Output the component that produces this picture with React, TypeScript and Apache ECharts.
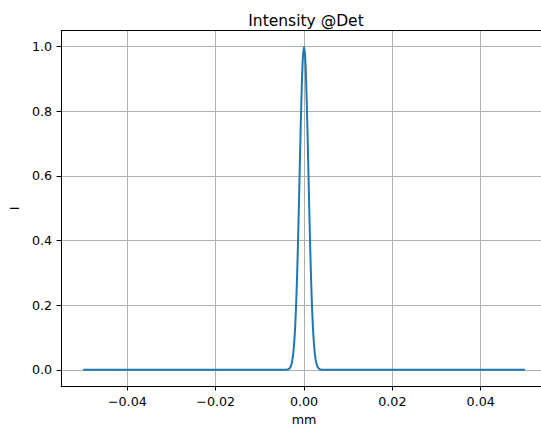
import React, { useEffect, useRef } from 'react';
import * as echarts from 'echarts';

// Intensity profile (mm, normalised intensity)
const xValues = [
  -0.05, -0.004, -0.00375, -0.0035, -0.00325, -0.003, -0.00275, -0.0025, -0.00225, -0.002,
  -0.00175, -0.0015, -0.00125, -0.001, -0.00075, -0.0005, -0.00025, 0,
  0.00025, 0.0005, 0.00075, 0.001, 0.00125, 0.0015, 0.00175, 0.002, 0.00225,
  0.0025, 0.00275, 0.003, 0.00325, 0.0035, 0.00375, 0.004, 0.05,
];
const yValues = [
  0, 0, 0.001, 0.002, 0.005, 0.011, 0.023, 0.044, 0.08, 0.135,
  0.216, 0.325, 0.458, 0.607, 0.755, 0.882, 0.969, 1.0,
  0.969, 0.882, 0.755, 0.607, 0.458, 0.325, 0.216, 0.135, 0.08,
  0.044, 0.023, 0.011, 0.005, 0.002, 0.001, 0, 0,
];
const xTicks = [-0.04, -0.02, 0, 0.02, 0.04];
const yTicks = [0, 0.2, 0.4, 0.6, 0.8, 1.0];
const chartTitle = 'Intensity @Det';
const xAxisName = 'mm';
const yAxisName = 'I';

const FONT = 'DejaVu Sans';

function fmtX(v: number): string {
  const s = Math.abs(v).toFixed(2);
  return v < -1e-12 ? '\u2212' + s : s;
}

export default function App() {
  const ref = useRef<HTMLDivElement>(null);
  useEffect(() => {
    if (!ref.current) return;
    const chart = echarts.init(ref.current, undefined, { renderer: 'svg' });
    const axisLineStyle = { show: true, onZero: false, lineStyle: { color: '#000', width: 1 } };
    chart.setOption({
      animation: false,
      backgroundColor: '#fff',
      title: {
        text: chartTitle,
        left: 301,
        textAlign: 'center',
        top: 7.5,
        textStyle: { fontFamily: FONT, fontSize: 15.5, fontWeight: 'normal', color: '#000' },
      },
      grid: { left: 60.5, right: 0, top: 30.5, bottom: 40, containLabel: false },
      xAxis: [
        {
          type: 'value',
          min: -0.055,
          max: 0.055,
          position: 'bottom',
          name: xAxisName,
          nameLocation: 'middle',
          nameGap: 27,
          nameTextStyle: { fontFamily: FONT, fontSize: 12.7, color: '#000' },
          axisLine: axisLineStyle,
          axisTick: { show: true, inside: false, length: 4.5, customValues: xTicks, lineStyle: { color: '#000', width: 1 } },
          axisLabel: {
            show: true,
            customValues: xTicks,
            margin: 9,
            formatter: (v: number) => fmtX(v),
            fontFamily: FONT,
            fontSize: 12.7,
            color: '#000',
          },
          splitLine: { show: true, lineStyle: { color: '#b0b0b0', width: 1 } },
        },
        {
          type: 'value',
          min: -0.055,
          max: 0.055,
          position: 'top',
          axisLine: axisLineStyle,
          axisTick: { show: false },
          axisLabel: { show: false },
          splitLine: { show: false },
        },
      ],
      yAxis: [
        {
          type: 'value',
          min: -0.05,
          max: 1.05,
          position: 'left',
          name: yAxisName,
          nameLocation: 'middle',
          nameGap: 40,
          nameTextStyle: { fontFamily: FONT, fontSize: 12.7, color: '#000' },
          axisLine: axisLineStyle,
          axisTick: { show: true, inside: false, length: 4.5, customValues: yTicks, lineStyle: { color: '#000', width: 1 } },
          axisLabel: {
            show: true,
            customValues: yTicks,
            margin: 9,
            formatter: (v: number) => v.toFixed(1),
            fontFamily: FONT,
            fontSize: 12.7,
            color: '#000',
          },
          splitLine: { show: true, lineStyle: { color: '#b0b0b0', width: 1 } },
        },
        {
          type: 'value',
          min: -0.05,
          max: 1.05,
          position: 'right',
          axisLine: axisLineStyle,
          axisTick: { show: false },
          axisLabel: { show: false },
          splitLine: { show: false },
        },
      ],
      series: [
        {
          type: 'line',
          xAxisIndex: 0,
          yAxisIndex: 0,
          data: xValues.map((x, i) => [x, yValues[i]]),
          showSymbol: false,
          symbol: 'none',
          smooth: 0.3,
          lineStyle: { color: '#1f77b4', width: 2 },
          z: 3,
        },
      ],
    });
    return () => chart.dispose();
  }, []);
  return (
    <div style={{ position: 'fixed', left: 0, top: 0, width: 541, height: 431, overflow: 'hidden', background: '#fff' }}>
      <div ref={ref} style={{ width: 547, height: 431 }} />
    </div>
  );
}
